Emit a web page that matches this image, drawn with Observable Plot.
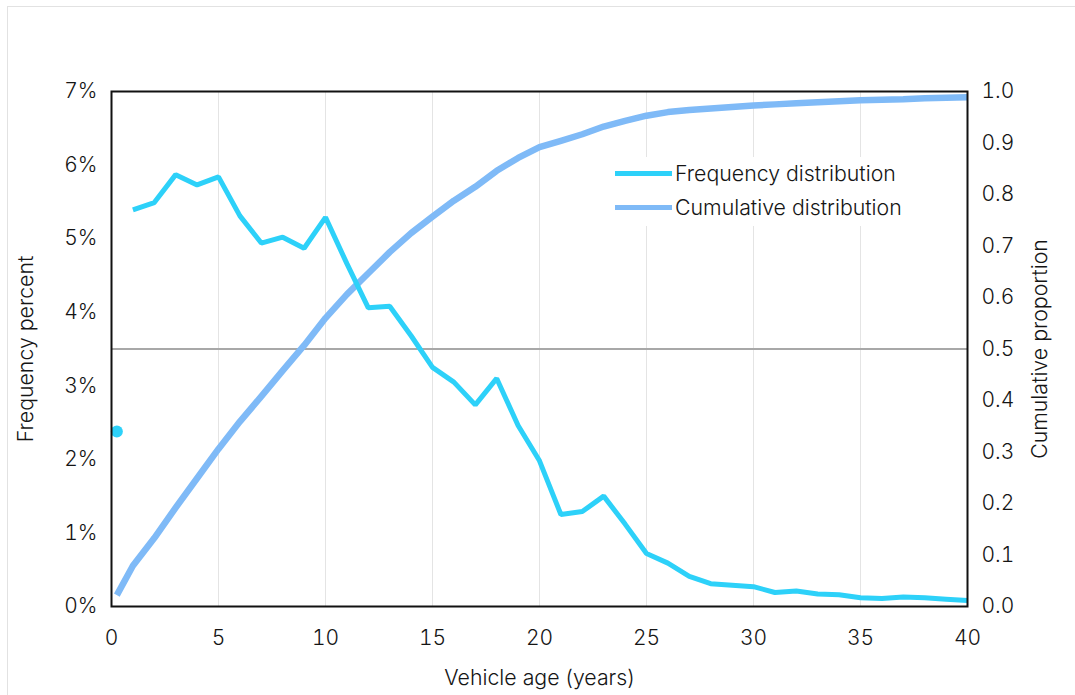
<!DOCTYPE html>
<html>
<head>
<meta charset="utf-8">
<script src="https://cdn.jsdelivr.net/npm/d3@7"></script>
<script src="https://cdn.jsdelivr.net/npm/@observablehq/plot@0.6"></script>
<style>
  html, body { margin: 0; padding: 0; background: #fff; }
  #wrap { position: relative; width: 1075px; height: 695px; overflow: hidden; }
  #outline { position: absolute; left: 7px; top: 6px; right: -2px; bottom: -2px;
             border-top: 1px solid #e2e2e2; border-left: 1px solid #e2e2e2; }
  #legend { position: absolute; left: 600px; top: 157px; width: 316px; height: 69px; background: #fff;
            font-family: Inter, "Liberation Sans", sans-serif; font-weight: 300; font-size: 21.3px; color: #151515; }
  .item { position: absolute; left: 15px; height: 24px; display: flex; align-items: center; white-space: nowrap; }
  .sw { width: 57px; height: 5px; margin-right: 3px; }
</style>
</head>
<body>
<div id="wrap">
  <div id="outline"></div>
  <div id="chart"></div>
  <div id="legend"></div>
</div>
<script>
// Vehicle age (years) for the frequency line
const ages = [1,2,3,4,5,6,7,8,9,10,11,12,13,14,15,16,17,18,19,20,21,22,23,24,25,26,27,28,29,30,31,32,33,34,35,36,37,38,39,40];
// Frequency percent by age
const freq = [5.39,5.49,5.87,5.73,5.84,5.31,4.94,5.02,4.87,5.29,4.66,4.06,4.08,3.68,3.25,3.05,2.74,3.10,2.46,1.98,1.25,1.29,1.50,1.12,0.72,0.59,0.41,0.31,0.29,0.27,0.19,0.21,0.17,0.16,0.12,0.11,0.13,0.12,0.10,0.08];
// First (partial) year shown as a single point
const firstAge = [0.25];
const firstFreq = [2.38];
// Cumulative proportion
const cumAges = [0.25,1,2,3,4,5,6,7,8,9,10,11,12,13,14,15,16,17,18,19,20,21,22,23,24,25,26,27,28,29,30,31,32,33,34,35,36,37,38,39,40];
const cumul = [0.022,0.079,0.133,0.192,0.249,0.306,0.359,0.408,0.458,0.507,0.560,0.606,0.647,0.688,0.725,0.757,0.788,0.815,0.846,0.871,0.892,0.904,0.917,0.932,0.943,0.953,0.960,0.964,0.967,0.970,0.973,0.975,0.977,0.979,0.981,0.983,0.984,0.985,0.987,0.988,0.989];
// Ticks
const xTicks = [0,5,10,15,20,25,30,35,40];
const yTicks = [0,1,2,3,4,5,6,7];
const rightTicks = [0,0.1,0.2,0.3,0.4,0.5,0.6,0.7,0.8,0.9,1.0];
const medianLine = [0.5];
const gridAges = [5,10,15,20,25,30,35];
// Legend
const seriesNames = ["Frequency distribution", "Cumulative distribution"];
const seriesColors = ["#2dd1f9", "#7fbaf7"];

const RATIO = 7; // right axis 1.0 aligns with left axis 7%

const freqData = ages.map((a, i) => ({age: a, v: freq[i]}));
const firstData = firstAge.map((a, i) => ({age: a, v: firstFreq[i]}));
const cumData = cumAges.map((a, i) => ({age: a, c: cumul[i]}));

const font = 'Inter, "Liberation Sans", sans-serif';

const chart = Plot.plot({
  width: 1075,
  height: 695,
  marginLeft: 111,
  marginRight: 108,
  marginTop: 91,
  marginBottom: 89,
  style: {fontFamily: font, fontSize: "21px", fontWeight: 300, color: "#151515", background: "transparent"},
  x: {domain: [0, 40]},
  y: {domain: [0, 7]},
  marks: [
    Plot.ruleX(gridAges, {stroke: "#e4e4e4", strokeWidth: 1}),
    Plot.ruleY(medianLine, {y: d => d * RATIO, stroke: "#a8a8a8", strokeWidth: 2}),
    Plot.line(cumData, {x: "age", y: d => d.c * RATIO, stroke: seriesColors[1], strokeWidth: 6.5, strokeLinejoin: "round", strokeLinecap: "butt"}),
    Plot.line(freqData, {x: "age", y: "v", stroke: seriesColors[0], strokeWidth: 5, strokeLinejoin: "miter", strokeLinecap: "butt"}),
    Plot.dot(firstData, {x: "age", y: "v", r: 6, fill: seriesColors[0], stroke: null}),
    Plot.frame({stroke: "#111", strokeWidth: 2}),
    Plot.axisX(xTicks, {tickSize: 0, tickPadding: 24, tickFormat: d => String(d), label: null}),
    Plot.axisX({label: "Vehicle age (years)", labelAnchor: "center", labelOffset: 78, labelArrow: "none", ticks: [], fontSize: "21.3px"}),
    Plot.axisY(yTicks, {tickSize: 0, tickPadding: 14, tickFormat: d => d + "%", label: null}),
    Plot.axisY({label: "Frequency percent", labelAnchor: "center", labelOffset: 94, labelArrow: "none", ticks: [], fontSize: "21.3px"}),
    Plot.axisY(rightTicks.map(v => v * RATIO), {anchor: "right", tickSize: 0, tickPadding: 14, tickFormat: d => (d / RATIO).toFixed(1), label: null}),
    Plot.axisY({anchor: "right", label: "Cumulative proportion", labelAnchor: "center", labelOffset: 79, labelArrow: "none", ticks: [], fontSize: "21.3px"})
  ]
});
document.getElementById("chart").appendChild(chart);

const legend = document.getElementById("legend");
seriesNames.forEach((name, i) => {
  const item = document.createElement("div");
  item.className = "item";
  item.style.top = (4 + i * 34) + "px";
  const sw = document.createElement("div");
  sw.className = "sw";
  sw.style.background = seriesColors[i];
  const tx = document.createElement("span");
  tx.textContent = name;
  item.appendChild(sw);
  item.appendChild(tx);
  legend.appendChild(item);
});
</script>
</body>
</html>
